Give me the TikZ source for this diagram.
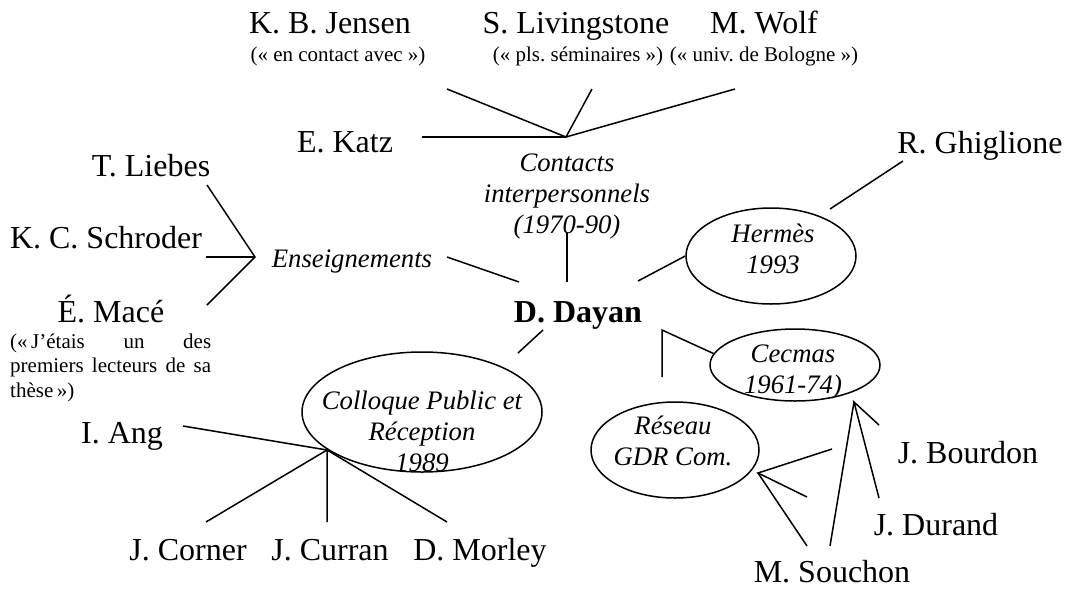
\documentclass[tikz,border=0pt]{standalone}
\usepackage{fontspec}
\setmainfont{Liberation Serif}
\frenchspacing
\usetikzlibrary{shapes.geometric}
\tikzset{
  person/.style={font=\fontsize{32}{36}\selectfont, inner sep=0pt, anchor=base},
  remark/.style={font=\fontsize{21}{24.5}\selectfont, inner sep=0pt, anchor=base},
  theme/.style={font=\fontsize{26.7}{30.7}\selectfont\itshape, align=center, inner sep=0pt, anchor=base},
  group/.style={ellipse, draw, line width=1.5pt, inner sep=0pt},
  link/.style={line width=1.5pt}
}

\begin{document}
\begin{tikzpicture}[x=1pt, y=-1pt]
  \useasboundingbox (0,0) rectangle (1069,590);

  % centre
  \node[person, font=\fontsize{32}{36}\selectfont\bfseries] (dayan) at (578,322) {D. Dayan};

  % contacts interpersonnels (base = last line)
  \node[theme] (contacts) at (567,233) {Contacts\\interpersonnels\\(1970-90)};
  \node[person] (katz) at (345,152) {E. Katz};
  \node[person] (jensen) at (330,33) {K. B. Jensen};
  \node[remark] (jensen-r) at (338,61) {(«~en contact avec~»)};
  \node[person] (livingstone) at (576,33) {S. Livingstone};
  \node[remark] (livingstone-r) at (578,61) {(«~pls. séminaires~»)};
  \node[person] (wolf) at (764,33) {M. Wolf};
  \node[remark] (wolf-r) at (764,61) {(«~univ. de Bologne~»)};

  % enseignements
  \node[theme] (teaching) at (352,267) {Enseignements};
  \node[person] (liebes) at (151,176) {T. Liebes};
  \node[person] (schroder) at (106,248) {K. C. Schroder};
  \node[person] (mace) at (111,322) {É. Macé};
  \node[remark, text width=201pt, align=justify, anchor=base west] (mace-r) at (10,348)
    {(«\,J’étais un des\linebreak premiers lecteurs de sa\linebreak thèse\,»)};

  % groupes
  \node[group, minimum width=170pt, minimum height=96pt] (hermes) at (771,256) {};
  \node[theme] (hermes-t) at (773,273) {Hermès\\1993};
  \node[person] (ghiglione) at (980,153) {R. Ghiglione};

  \node[group, minimum width=170pt, minimum height=72pt] (cecmas) at (795,365) {};
  \node[theme] (cecmas-t) at (793,393) {Cecmas\\1961-74)};
  \node[group, minimum width=168pt, minimum height=96pt] (reseau) at (675,450) {};
  \node[theme] (reseau-t) at (673,465) {Réseau\\GDR Com.};
  \node[person] (bourdon) at (968,463) {J. Bourdon};
  \node[person] (durand) at (936,535) {J. Durand};
  \node[person] (souchon) at (832,582) {M. Souchon};

  \node[group, minimum width=240pt, minimum height=120pt] (colloque) at (422,412) {};
  \node[theme] (colloque-t) at (422,471) {Colloque Public et\\Réception\\1989};
  \node[person] (ang) at (122,443) {I. Ang};
  \node[person] (corner) at (188,560) {J. Corner};
  \node[person] (curran) at (330,560) {J. Curran};
  \node[person] (morley) at (480,560) {D. Morley};

  % free ends of the connectors
  \coordinate (contacts-hub) at (566,137);
  \coordinate (katz-end) at (422,137);
  \coordinate (jensen-end) at (447,89);
  \coordinate (livingstone-end) at (592,89);
  \coordinate (wolf-end) at (735,89);
  \coordinate (contacts-end) at (567,233);
  \coordinate (dayan-n) at (567,282);

  \coordinate (teaching-hub) at (255,257);
  \coordinate (liebes-end) at (207,185);
  \coordinate (schroder-end) at (206,257);
  \coordinate (mace-end) at (207,305);
  \coordinate (teaching-end) at (447,257);
  \coordinate (dayan-nw) at (519,282);

  \coordinate (dayan-ne) at (638,281);
  \coordinate (hermes-end) at (830,209);
  \coordinate (ghiglione-end) at (903,161);
  \coordinate (dayan-sw) at (543,330);
  \coordinate (colloque-end) at (518,353);
  \coordinate (dayan-se) at (662,330);
  \coordinate (reseau-end) at (662,377);

  \coordinate (cecmas-hub) at (854,402);
  \coordinate (reseau-hub) at (758,473);
  \coordinate (bourdon-end) at (879,425);
  \coordinate (durand-end) at (879,498);
  \coordinate (souchon-end) at (830,546);
  \coordinate (bourdon-end2) at (832,449);
  \coordinate (durand-end2) at (807,497);
  \coordinate (souchon-end2) at (807,546);

  \coordinate (colloque-hub) at (327,450);
  \coordinate (ang-end) at (183,426);
  \coordinate (corner-end) at (206,522);
  \coordinate (curran-end) at (327,522);
  \coordinate (morley-end) at (447,522);

  % connectors
  \draw[link] (katz-end) -- (contacts-hub);
  \draw[link] (jensen-end) -- (contacts-hub) -- (livingstone-end);
  \draw[link] (contacts-hub) -- (wolf-end);
  \draw[link] (contacts-end) -- (dayan-n);

  \draw[link] (liebes-end) -- (teaching-hub) -- (mace-end);
  \draw[link] (schroder-end) -- (teaching-hub);
  \draw[link] (teaching-end) -- (dayan-nw);

  \draw[link] (dayan-ne) -- (hermes.west);
  \draw[link] (hermes-end) -- (ghiglione-end);
  \draw[link] (dayan-sw) -- (colloque-end);
  \draw[link] (cecmas.172) -- (dayan-se) -- (reseau-end);

  \draw[link] (bourdon-end) -- (cecmas-hub) -- (durand-end);
  \draw[link] (cecmas-hub) -- (souchon-end);
  \draw[link] (bourdon-end2) -- (reseau-hub) -- (durand-end2);
  \draw[link] (reseau-hub) -- (souchon-end2);

  \draw[link] (ang-end) -- (colloque-hub) -- (morley-end);
  \draw[link] (corner-end) -- (colloque-hub) -- (curran-end);
\end{tikzpicture}
\end{document}
